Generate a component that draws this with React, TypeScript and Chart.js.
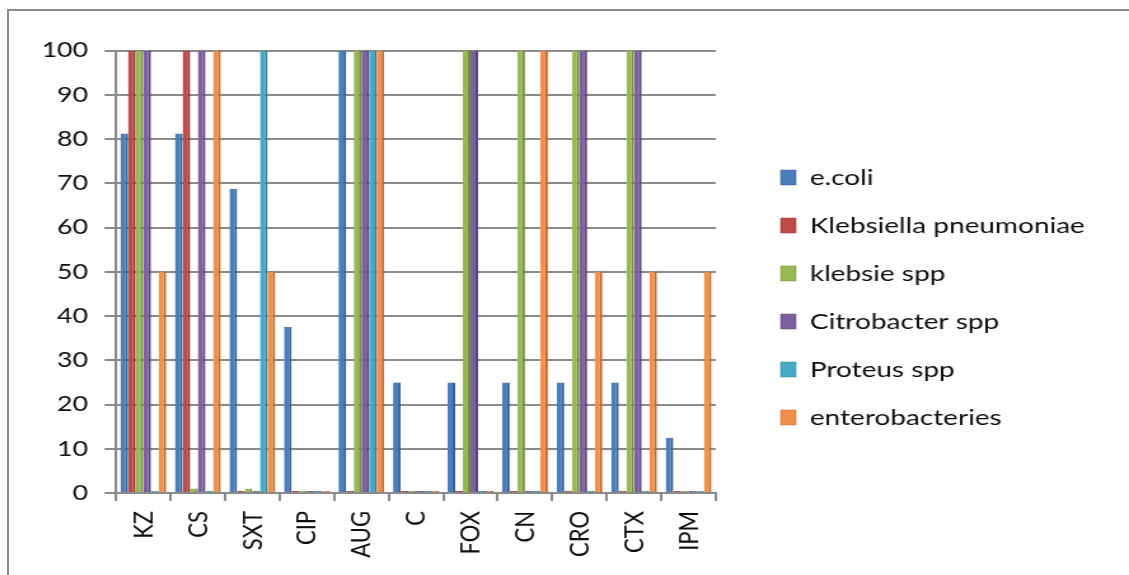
import React, { useEffect, useRef } from 'react';
import { Chart, registerables } from 'chart.js';

Chart.register(...registerables);

// Antibiotics on the category axis
const categories = ['KZ', 'CS', 'SXT', 'CIP', 'AUG', 'C', 'FOX', 'CN', 'CRO', 'CTX', 'IPM'];

// Series names, in legend order
const seriesNames = [
  'e.coli',
  'Klebsiella pneumoniae',
  'klebsie spp',
  'Citrobacter spp',
  'Proteus spp',
  'enterobacteries',
];

// Resistance rates (%) per antibiotic
const ecoli = [81.25, 81.25, 68.75, 37.5, 100, 25, 25, 25, 25, 25, 12.5];
const klebsiellaPneumoniae = [100, 100, 0, 0, 0, 0, 0, 0, 0, 0, 0];
const klebsieSpp = [100, 1, 1, 0, 100, 0, 100, 100, 100, 100, 0];
const citrobacterSpp = [100, 100, 0, 0, 100, 0, 100, 0, 100, 100, 0];
const proteusSpp = [0, 0, 100, 0, 100, 0, 0, 0, 0, 0, 0];
const enterobacteries = [50, 100, 50, 0, 100, 0, 0, 100, 50, 50, 50];

// Value axis ticks
const yMin = 0;
const yMax = 100;
const yStep = 10;

const seriesValues = [ecoli, klebsiellaPneumoniae, klebsieSpp, citrobacterSpp, proteusSpp, enterobacteries];
const fillColors = ['#4A7EBB', '#BE4B48', '#98B954', '#7D60A0', '#46AAC5', '#F0904A'];
const sideColors = ['#365F91', '#8E3634', '#748E3F', '#5C4677', '#31829A', '#C06A2C'];

const FONT = 'Lato';
const TEXT = '#0d0d0d';
const GRID = '#8a8a8a';

// The canvas is drawn narrower and widened with CSS, giving the broad lettering
const CANVAS_W = 870;
const CANVAS_H = 564;
const CSS_W = 1106;

const LEGEND_FONT = 22;
const LEGEND_PAD = 26;
const LEGEND_BOX = 12;
const LEGEND_LEFT = 581;

export default function App() {
  const canvasRef = useRef<HTMLCanvasElement | null>(null);

  useEffect(() => {
    const canvas = canvasRef.current;
    if (!canvas) return;

    // Width of the longest legend entry, so the legend sits at a fixed left edge
    const measure = document.createElement('canvas').getContext('2d') as CanvasRenderingContext2D;
    measure.font = `${LEGEND_FONT}px ${FONT}`;
    const textW = Math.max(...seriesNames.map((n) => measure.measureText(n).width));
    const legendW = LEGEND_PAD + LEGEND_BOX + LEGEND_FONT / 2 + textW + 10;
    const padRight = Math.max(0, CANVAS_W - LEGEND_LEFT - legendW);

    const chart = new Chart(canvas, {
      type: 'bar',
      data: {
        labels: categories,
        datasets: seriesNames.map((name, i) => ({
          label: name,
          data: seriesValues[i],
          backgroundColor: fillColors[i],
          borderColor: sideColors[i],
          borderWidth: { top: 0, right: 2, bottom: 0, left: 0 },
          borderSkipped: false,
          categoryPercentage: 0.84,
          barPercentage: 1,
          minBarLength: 2,
        })),
      },
      options: {
        responsive: false,
        animation: false,
        devicePixelRatio: 1,
        layout: { padding: { top: 39.5, bottom: 0, left: 0, right: padRight } },
        plugins: {
          legend: {
            position: 'right',
            align: 'start',
            maxWidth: 400,
            // blank heading used only to drop the entries to mid-height
            title: { display: true, text: '', font: { size: 10 }, padding: { top: 78, bottom: 0 } },
            labels: {
              font: { family: FONT, size: LEGEND_FONT },
              color: TEXT,
              boxWidth: LEGEND_BOX,
              boxHeight: 15,
              padding: LEGEND_PAD,
            },
          },
          tooltip: { enabled: false },
        },
        scales: {
          x: {
            grid: {
              offset: true,
              drawOnChartArea: false,
              drawTicks: true,
              tickLength: 8,
              color: GRID,
              lineWidth: 2,
            },
            border: { display: true, color: GRID, width: 2 },
            ticks: {
              autoSkip: false,
              minRotation: 90,
              maxRotation: 90,
              padding: 10,
              font: { family: FONT, size: 22 },
              color: TEXT,
            },
            afterFit: (s: any) => {
              s.height = 82;
            },
          },
          y: {
            min: yMin,
            max: yMax,
            ticks: {
              stepSize: yStep,
              padding: 13,
              font: { family: FONT, size: 21 },
              color: TEXT,
            },
            grid: { color: GRID, lineWidth: 2, tickLength: 9 },
            border: { display: true, color: GRID, width: 2 },
            afterFit: (s: any) => {
              s.width = 84.2;
            },
          },
          // empty spacer between the plot and the legend
          yGap: {
            type: 'linear',
            position: 'right',
            display: true,
            grid: { display: false, drawTicks: false },
            ticks: { display: false },
            border: { display: false },
            afterFit: (s: any) => {
              s.width = 25;
            },
          },
        },
      },
    } as any);

    return () => chart.destroy();
  }, []);

  return (
    <div
      style={{
        position: 'absolute',
        left: 7,
        top: 9,
        right: 0,
        bottom: 0,
        borderLeft: `2px solid ${GRID}`,
        borderTop: `2px solid ${GRID}`,
        overflow: 'hidden',
        background: '#fff',
      }}
    >
      <canvas
        ref={canvasRef}
        width={CANVAS_W}
        height={CANVAS_H}
        style={{ display: 'block', width: `${CSS_W}px`, height: `${CANVAS_H}px` }}
      />
    </div>
  );
}
